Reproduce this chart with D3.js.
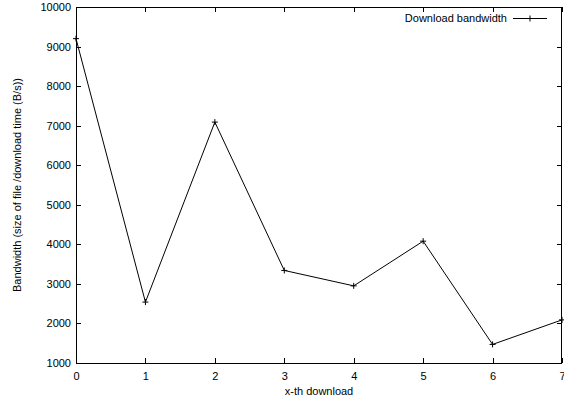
<!DOCTYPE html>
<html><head><meta charset="utf-8">
<script src="https://cdn.jsdelivr.net/npm/d3@7"></script>
<style>body{margin:0;background:#fff}svg{display:block}text{font-family:"Liberation Sans",Arial,sans-serif;font-size:11px;fill:#000}</style>
</head><body>
<script>
const xValues = [0,1,2,3,4,5,6,7];
const bandwidth = [9200,2540,7090,3340,2950,4080,1470,2090];
const xTicks = [0,1,2,3,4,5,6,7];
const yTicks = [1000,2000,3000,4000,5000,6000,7000,8000,9000,10000];
const seriesName = "Download bandwidth";

const W=564,H=402;
const m={l:76,r:2,t:7,b:39};
const svg=d3.select("body").append("svg").attr("width",W).attr("height",H);
const x=d3.scaleLinear().domain([0,7]).range([m.l,W-m.r]);
const y=d3.scaleLinear().domain([1000,10000]).range([H-m.b,m.t]);
const tl=5;
const g=svg.append("g").attr("shape-rendering","crispEdges");
// ticks (mirrored, inward)
xTicks.forEach(v=>{
  const px=Math.round(x(v))+0.5;
  g.append("line").attr("x1",px).attr("x2",px).attr("y1",y(1000)).attr("y2",y(1000)-tl).attr("stroke","#000");
  g.append("line").attr("x1",px).attr("x2",px).attr("y1",y(10000)).attr("y2",y(10000)+tl).attr("stroke","#000");
});
yTicks.forEach(v=>{
  const py=Math.round(y(v))+0.5;
  g.append("line").attr("x1",x(0)).attr("x2",x(0)+tl).attr("y1",py).attr("y2",py).attr("stroke","#000");
  g.append("line").attr("x1",x(7)).attr("x2",x(7)-tl).attr("y1",py).attr("y2",py).attr("stroke","#000");
});
// tick labels via axes
const xa=svg.append("g").attr("transform",`translate(0,${y(1000)})`)
  .call(d3.axisBottom(x).tickValues(xTicks).tickSize(0).tickPadding(9).tickFormat(d3.format("d")));
const ya=svg.append("g").attr("transform",`translate(${x(0)},0)`)
  .call(d3.axisLeft(y).tickValues(yTicks).tickSize(0).tickPadding(5).tickFormat(d3.format("d")));
[xa,ya].forEach(a=>{a.select(".domain").remove();a.selectAll("text").attr("font-family","Liberation Sans, Arial, sans-serif").attr("font-size","11px").attr("fill","#000");});
// frame
g.append("rect").attr("x",x(0)+0.5).attr("y",y(10000)+0.5).attr("width",x(7)-x(0)-1).attr("height",y(1000)-y(10000)).attr("fill","none").attr("stroke","#000");
// line
svg.append("path").datum(xValues.map((v,i)=>[v,bandwidth[i]]))
  .attr("fill","none").attr("stroke","#000").attr("stroke-width",1)
  .attr("d",d3.line().x(d=>x(d[0])).y(d=>y(d[1])));
// markers
const ms=3;
const mk=svg.append("g").attr("stroke","#000").attr("stroke-width",1);
xValues.forEach((v,i)=>{
  const px=x(v),py=y(bandwidth[i]);
  mk.append("line").attr("x1",px-ms).attr("x2",px+ms).attr("y1",py).attr("y2",py);
  mk.append("line").attr("x1",px).attr("x2",px).attr("y1",py-ms).attr("y2",py+ms);
});
// legend
svg.append("text").attr("x",507).attr("y",22).attr("text-anchor","end").text(seriesName);
mk.append("line").attr("x1",513).attr("x2",547).attr("y1",18.5).attr("y2",18.5);
mk.append("line").attr("x1",530).attr("x2",530).attr("y1",15.5).attr("y2",21.5);
// axis labels
svg.append("text").attr("x",(x(0)+x(7))/2).attr("y",395).attr("text-anchor","middle").text("x-th download");
svg.append("text").attr("transform",`translate(21,${(y(1000)+y(10000))/2}) rotate(-90)`).attr("text-anchor","middle").text("Bandwidth (size of file /download time (B/s))");
</script>
</body></html>
